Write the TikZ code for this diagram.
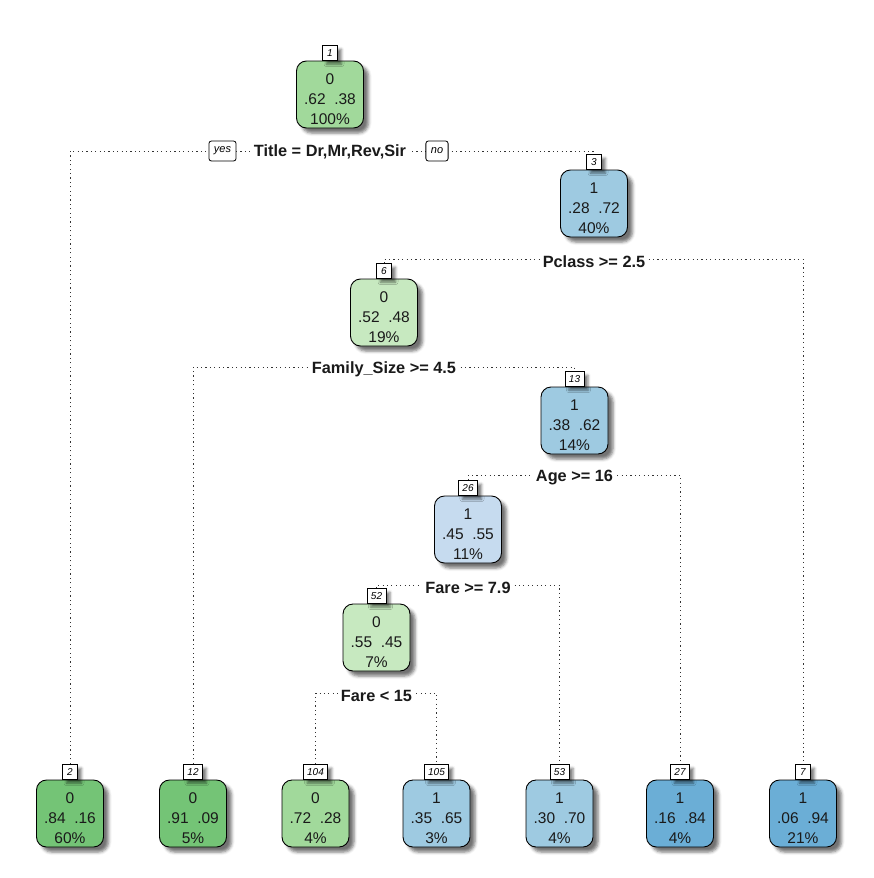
\documentclass[tikz,border=0pt]{standalone}
\usepackage{fontspec}
\setmainfont{Liberation Sans}
\usetikzlibrary{shadows.blur,backgrounds}
\definecolor{gA}{HTML}{74C476}
\definecolor{gB}{HTML}{A1D99B}
\definecolor{gC}{HTML}{C7E9C0}
\definecolor{bA}{HTML}{6BAED6}
\definecolor{bB}{HTML}{9ECAE1}
\definecolor{bC}{HTML}{C6DBEF}
\definecolor{ink}{HTML}{1A1A1A}
\newcommand\ndtext[3]{\raisebox{-5.5pt}[\height][\depth]{\begin{tabular}{@{}c@{}}#1\\#2\\#3\end{tabular}}}
\begin{document}
\begin{tikzpicture}[x=1pt,y=-1pt,
  tbox/.style={draw=black, line width=0.9pt, rounded corners=10pt,
    minimum width=67pt, minimum height=67pt, inner sep=0pt,
    text=ink, font=\fontsize{15.5}{20}\selectfont,
    blur shadow={shadow xshift=5pt,shadow yshift=-5pt,shadow blur radius=3pt,shadow opacity=55}},
  numbox/.style={draw=black, fill=white, line width=0.8pt, minimum height=15pt,
    minimum width=15pt, inner xsep=4pt, inner ysep=0pt, anchor=south,
    font=\fontsize{10}{10}\selectfont\itshape,
    blur shadow={shadow xshift=4pt,shadow yshift=-4pt,shadow blur radius=2.5pt,shadow opacity=50}},
  split/.style={fill=white, inner xsep=3pt, inner ysep=1pt, text=ink,
    font=\fontsize{16.3}{16.3}\selectfont\bfseries},
  yn/.style={draw=black, fill=white, line width=0.8pt, rounded corners=2.5pt,
    minimum height=20pt, inner xsep=5pt, inner ysep=0pt,
    font=\fontsize{11}{11}\selectfont\itshape},
  conn/.style={line width=1pt, dash pattern=on 1.1pt off 3.3pt, draw=black!80}
]
\useasboundingbox (0,0) rectangle (873,878);

% internal nodes
\node[tbox, fill=gB] (n1) at (330,94.5) {\ndtext{0}{.62\ \ .38}{100\%}};
\node[numbox] (l1) at (n1.north) {1};
\node[tbox, fill=bB] (n3) at (594,203.5) {\ndtext{1}{.28\ \ .72}{40\%}};
\node[numbox] (l3) at (n3.north) {3};
\node[tbox, fill=gC] (n6) at (384,312.5) {\ndtext{0}{.52\ \ .48}{19\%}};
\node[numbox] (l6) at (n6.north) {6};
\node[tbox, fill=bB] (n13) at (574.5,420.5) {\ndtext{1}{.38\ \ .62}{14\%}};
\node[numbox] (l13) at (n13.north) {13};
\node[tbox, fill=bC] (n26) at (468,529.5) {\ndtext{1}{.45\ \ .55}{11\%}};
\node[numbox] (l26) at (n26.north) {26};
\node[tbox, fill=gC] (n52) at (376.5,637.5) {\ndtext{0}{.55\ \ .45}{7\%}};
\node[numbox] (l52) at (n52.north) {52};

% leaves
\node[tbox, fill=gA] (n2) at (70,813.5) {\ndtext{0}{.84\ \ .16}{60\%}};
\node[numbox] (l2) at (n2.north) {2};
\node[tbox, fill=gA] (n12) at (193,813.5) {\ndtext{0}{.91\ \ .09}{5\%}};
\node[numbox] (l12) at (n12.north) {12};
\node[tbox, fill=gB] (n104) at (315.5,813.5) {\ndtext{0}{.72\ \ .28}{4\%}};
\node[numbox] (l104) at (n104.north) {104};
\node[tbox, fill=bB] (n105) at (436.5,813.5) {\ndtext{1}{.35\ \ .65}{3\%}};
\node[numbox] (l105) at (n105.north) {105};
\node[tbox, fill=bB] (n53) at (559.5,813.5) {\ndtext{1}{.30\ \ .70}{4\%}};
\node[numbox] (l53) at (n53.north) {53};
\node[tbox, fill=bA] (n27) at (680,813.5) {\ndtext{1}{.16\ \ .84}{4\%}};
\node[numbox] (l27) at (n27.north) {27};
\node[tbox, fill=bA] (n7) at (803,813.5) {\ndtext{1}{.06\ \ .94}{21\%}};
\node[numbox] (l7) at (n7.north) {7};

% split labels
\node[split] (s1) at (330,152) {Title = Dr,Mr,Rev,Sir};
\node[yn] (yes) at (222.5,151) {yes};
\node[yn] (no) at (437,151) {no};
\node[split] (s3) at (594,262) {Pclass >= 2.5};
\node[split] (s6) at (384,369) {Family\_Size >= 4.5};
\node[split] (s13) at (574.5,478) {Age >= 16};
\node[split] (s26) at (468,588) {Fare >= 7.9};
\node[split] (s52) at (376.5,696) {Fare < 15};

% connectors
\begin{pgfonlayer}{background}
\draw[conn] (l2.north) |- ([yshift=1pt]s1.center) -| (l3.north);
\draw[conn] (l6.north) |- ([yshift=3pt]s3.center) -| (l7.north);
\draw[conn] (l12.north) |- ([yshift=2pt]s6.center) -| (l13.north);
\draw[conn] (l26.north) |- ([yshift=3pt]s13.center) -| (l27.north);
\draw[conn] (l52.north) |- ([yshift=3pt]s26.center) -| (l53.north);
\draw[conn] (l104.north) |- ([yshift=3pt]s52.center) -| (l105.north);
\end{pgfonlayer}
\end{tikzpicture}
\end{document}
